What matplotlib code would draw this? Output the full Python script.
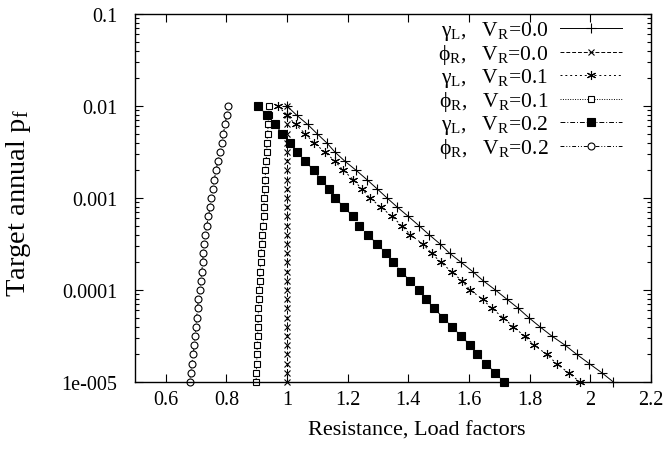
import matplotlib
matplotlib.use("Agg")
import matplotlib.pyplot as plt
from matplotlib.ticker import FixedLocator, FixedFormatter, LogLocator, NullFormatter

plt.rcParams['font.family'] = ['Liberation Serif', 'DejaVu Serif']
plt.rcParams['mathtext.fontset'] = 'custom'
plt.rcParams['mathtext.rm'] = 'Liberation Serif'
plt.rcParams['mathtext.it'] = 'Liberation Serif:italic'

# Target annual probability of failure levels (0.1-decade steps)
pf = [1.00e-2, 7.94e-3, 6.31e-3, 5.01e-3, 3.98e-3, 3.16e-3, 2.51e-3, 2.00e-3, 1.58e-3, 1.26e-3,
      1.00e-3, 7.94e-4, 6.31e-4, 5.01e-4, 3.98e-4, 3.16e-4, 2.51e-4, 2.00e-4, 1.58e-4, 1.26e-4,
      1.00e-4, 7.94e-5, 6.31e-5, 5.01e-5, 3.98e-5, 3.16e-5, 2.51e-5, 2.00e-5, 1.58e-5, 1.26e-5,
      1.00e-5]

# Load factor gamma_L and resistance factor phi_R for each resistance COV V_R
gamma_v00 = [1.000, 1.032, 1.068, 1.099, 1.131, 1.158, 1.191, 1.228, 1.264, 1.297,
             1.330, 1.364, 1.400, 1.435, 1.469, 1.505, 1.536, 1.574, 1.613, 1.647,
             1.687, 1.725, 1.763, 1.797, 1.834, 1.873, 1.917, 1.955, 1.997, 2.038,
             2.076]
phi_v00 = [1.00] * 31
gamma_v01 = [0.971, 1.000, 1.028, 1.060, 1.089, 1.125, 1.158, 1.186, 1.219, 1.246,
             1.274, 1.310, 1.346, 1.378, 1.407, 1.448, 1.477, 1.507, 1.543, 1.576,
             1.604, 1.645, 1.675, 1.713, 1.746, 1.783, 1.815, 1.856, 1.889, 1.928,
             1.966]
phi_v01 = [0.941, 0.939, 0.938, 0.936, 0.934, 0.933, 0.931, 0.929, 0.928, 0.927,
           0.925, 0.924, 0.923, 0.921, 0.919, 0.917, 0.914, 0.913, 0.911, 0.910,
           0.909, 0.907, 0.906, 0.905, 0.904, 0.903, 0.902, 0.901, 0.900, 0.899,
           0.898]
gamma_v02 = [0.905, 0.934, 0.961, 0.984, 1.010, 1.033, 1.060, 1.089, 1.112, 1.139,
             1.159, 1.188, 1.218, 1.238, 1.267, 1.297, 1.327, 1.350, 1.376, 1.406,
             1.435, 1.458, 1.485, 1.515, 1.544, 1.574, 1.604, 1.627, 1.656, 1.686,
             1.716]
phi_v02 = [0.807, 0.801, 0.796, 0.790, 0.785, 0.778, 0.772, 0.766, 0.760, 0.755,
           0.751, 0.746, 0.741, 0.735, 0.730, 0.727, 0.724, 0.722, 0.719, 0.716,
           0.713, 0.708, 0.705, 0.702, 0.700, 0.697, 0.694, 0.691, 0.686, 0.683,
           0.679]

labels = [r'γ$_{\mathrm{L}}$,   V$_{\mathrm{R}}$=0.0',
          r'ϕ$_{\mathrm{R}}$,   V$_{\mathrm{R}}$=0.0',
          r'γ$_{\mathrm{L}}$,   V$_{\mathrm{R}}$=0.1',
          r'ϕ$_{\mathrm{R}}$,   V$_{\mathrm{R}}$=0.1',
          r'γ$_{\mathrm{L}}$,   V$_{\mathrm{R}}$=0.2',
          r'ϕ$_{\mathrm{R}}$,   V$_{\mathrm{R}}$=0.2']

x_ticks = [0.6, 0.8, 1.0, 1.2, 1.4, 1.6, 1.8, 2.0, 2.2]
x_tick_labels = ['0.6', '0.8', '1', '1.2', '1.4', '1.6', '1.8', '2', '2.2']
y_ticks = [1e-5, 1e-4, 1e-3, 1e-2, 1e-1]
y_tick_labels = ['1e-005', '0.0001', '0.001', '0.01', '0.1']

fig = plt.figure(figsize=(6.65, 4.56), dpi=100)
ax = fig.add_axes([0.2035, 0.160, 0.7755, 0.807])

series = [gamma_v00, phi_v00, gamma_v01, phi_v01, gamma_v02, phi_v02]
styles = [
    dict(ls='-', marker='+', ms=6.5, mfc='black'),
    dict(ls=(0, (4, 2)), marker='x', ms=5, mfc='black'),
    dict(ls=(0, (2, 3)), marker=(6, 2, 0), ms=6.5, mfc='black'),
    dict(ls=(0, (1, 1.5)), marker='s', ms=5, mfc='white'),
    dict(ls=(0, (5, 2, 1, 2)), marker='s', ms=5.5, mfc='black'),
    dict(ls=(0, (4, 2, 1, 2, 1, 2)), marker='o', ms=5, mfc='white'),
]

for xs, lab, st in zip(series, labels, styles):
    ax.plot(xs, pf, color='black', lw=0.7, mec='black', mew=0.8,
            label=lab, clip_on=False, **st)

ax.set_yscale('log')
ax.set_xlim(0.5, 2.2)
ax.set_ylim(1e-5, 0.1)

ax.xaxis.set_major_locator(FixedLocator(x_ticks))
ax.xaxis.set_major_formatter(FixedFormatter(x_tick_labels))
ax.yaxis.set_major_locator(FixedLocator(y_ticks))
ax.yaxis.set_major_formatter(FixedFormatter(y_tick_labels))
ax.yaxis.set_minor_locator(LogLocator(base=10, subs=range(2, 10), numticks=20))
ax.yaxis.set_minor_formatter(NullFormatter())

ax.tick_params(which='both', direction='in', top=True, right=True,
               labelsize=14.5, width=0.8)
ax.tick_params(axis='x', pad=6)
ax.tick_params(axis='y', pad=13)
ax.tick_params(which='major', length=6)
ax.tick_params(which='minor', length=3)
for sp in ax.spines.values():
    sp.set_linewidth(1.0)

ax.set_xlabel('Resistance, Load factors', fontsize=16)
ax.set_ylabel(r'Target annual p$_{\mathrm{f}}$', fontsize=20.5)
ax.xaxis.set_label_coords(0.546, -0.105)
ax.yaxis.set_label_coords(-0.198, 0.49)

ax.legend(loc='upper right', frameon=False, markerfirst=False, fontsize=15.5,
          handlelength=2.9, handletextpad=0.55, labelspacing=0.0,
          borderaxespad=0.0, borderpad=0.25, bbox_to_anchor=(0.955, 1.0))

fig.savefig('out.png', dpi=100)
